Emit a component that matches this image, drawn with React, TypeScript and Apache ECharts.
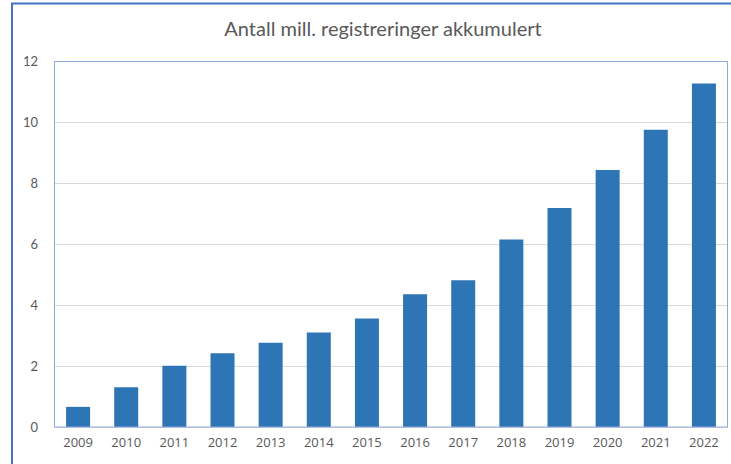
import React, { useEffect, useRef } from "react";
import * as echarts from "echarts";

const title = "Antall mill. registreringer akkumulert";
const years = ["2009", "2010", "2011", "2012", "2013", "2014", "2015", "2016", "2017", "2018", "2019", "2020", "2021", "2022"];
const registrations = [0.66, 1.3, 2.01, 2.42, 2.76, 3.1, 3.56, 4.35, 4.81, 6.15, 7.18, 8.43, 9.75, 11.26];

export default function App() {
  const ref = useRef<HTMLDivElement>(null);
  useEffect(() => {
    if (!ref.current) return;
    const chart = echarts.init(ref.current, undefined, { renderer: "svg" });
    chart.setOption({
      animation: false,
      backgroundColor: "#ffffff",
      title: {
        text: title,
        left: 378,
        top: 13,
        textAlign: "center",
        textStyle: { fontFamily: "Lato", fontSize: 20, fontWeight: "normal", color: "#595959" },
      },
      graphic: [
        {
          type: "rect",
          shape: { x: 12, y: 3.5, width: 740, height: 480 },
          style: { fill: "none", stroke: "#4472c4", lineWidth: 2 },
          z: 10,
        },
        {
          type: "rect",
          shape: { x: 54.5, y: 61.5, width: 673, height: 365.5 },
          style: { fill: "none", stroke: "#8eaadb", lineWidth: 1 },
          z: 10,
        },
      ],
      grid: { left: 54, right: 3, top: 61, bottom: 37, containLabel: false },
      xAxis: {
        type: "category",
        data: years,
        axisLine: { show: true, lineStyle: { color: "#d9d9d9", width: 1 } },
        axisTick: { show: false },
        axisLabel: { color: "#595959", fontFamily: "Open Sans", fontSize: 13, margin: 8 },
      },
      yAxis: {
        type: "value",
        min: 0,
        max: 12,
        interval: 2,
        axisLine: { show: false },
        axisTick: { show: false },
        splitLine: { lineStyle: { color: "#d9d9d9", width: 1 } },
        axisLabel: { color: "#595959", fontFamily: "Lato", fontSize: 13, margin: 16 },
      },
      series: [
        {
          type: "bar",
          data: registrations,
          barWidth: 24,
          itemStyle: { color: "#2e75b6" },
        },
      ],
    });
    return () => chart.dispose();
  }, []);
  return (
    <div
      ref={ref}
      style={{ position: "fixed", left: 0, top: 0, width: 731, height: 464 }}
    />
  );
}
